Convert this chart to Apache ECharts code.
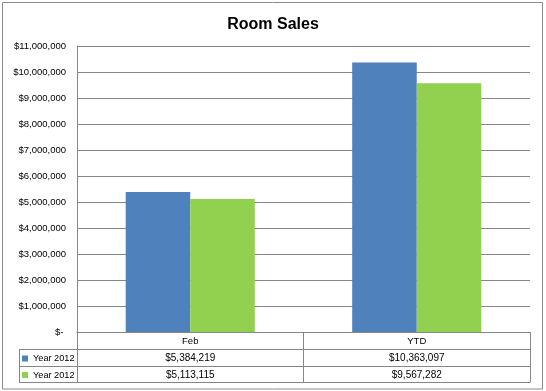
<!DOCTYPE html>
<html>
<head>
<meta charset="utf-8">
<script src="https://cdn.jsdelivr.net/npm/echarts@6/dist/echarts.min.js"></script>
<style>
html,body{margin:0;padding:0;background:#fff;}
#chart{width:546px;height:391px;}
</style>
</head>
<body>
<div id="chart"></div>
<script>
var categories = ['Feb', 'YTD'];
var seriesNames = ['Year 2012', 'Year 2012 '];
var sales1 = [5384219, 10363097];
var sales2 = [5113115, 9567282];
var yTicks = { min: 0, max: 11000000, interval: 1000000 };

function money(v) {
  if (v === 0) return '$- ';
  return '$' + Number(v).toLocaleString('en-US');
}

var FONT = 'Liberation Sans';
var GRID_COLOR = '#868686';
var chart = echarts.init(document.getElementById('chart'), null, { renderer: 'canvas' });

var option = {
  backgroundColor: '#ffffff',
  animation: false,
  title: {
    text: 'Room Sales',
    left: 'center',
    top: 12,
    textStyle: { fontFamily: FONT, fontWeight: 'bold', fontSize: 16, color: '#000' }
  },
  legend: {
    orient: 'vertical',
    left: 22,
    top: 352.5,
    padding: 0,
    itemGap: 4.5,
    itemWidth: 6,
    itemHeight: 6,
    icon: 'rect',
    selectedMode: false,
    data: seriesNames,
    textStyle: { fontFamily: FONT, fontSize: 9.2, color: '#000', lineHeight: 12 }
  },
  grid: { left: 77, right: 16, top: 46, bottom: 59, containLabel: false },
  yAxis: {
    type: 'value',
    min: yTicks.min,
    max: yTicks.max,
    interval: yTicks.interval,
    axisLine: { show: true, lineStyle: { color: GRID_COLOR, width: 1 } },
    axisTick: { show: false },
    splitLine: { show: true, lineStyle: { color: GRID_COLOR, width: 1 } },
    axisLabel: { margin: 11, fontFamily: FONT, fontSize: 9.5, color: '#000', formatter: money }
  },
  xAxis: [
    {
      type: 'category',
      data: categories,
      position: 'bottom',
      axisLine: { show: true, lineStyle: { color: GRID_COLOR, width: 1 } },
      axisTick: { show: true, interval: 0, length: 50, lineStyle: { color: GRID_COLOR, width: 1 } },
      axisLabel: { margin: 4, interval: 0, fontFamily: FONT, fontSize: 9.5, color: '#000' }
    },
    {
      type: 'category',
      data: categories,
      position: 'bottom',
      offset: 17,
      axisLine: { show: true, lineStyle: { color: GRID_COLOR, width: 1 } },
      axisTick: { show: false },
      axisLabel: { margin: 4, interval: 0, fontFamily: FONT, fontSize: 10, color: '#000',
        formatter: function (v, i) { return money(sales1[i]); } }
    },
    {
      type: 'category',
      data: categories,
      position: 'bottom',
      offset: 34,
      axisLine: { show: true, lineStyle: { color: GRID_COLOR, width: 1 } },
      axisTick: { show: false },
      axisLabel: { margin: 4, interval: 0, fontFamily: FONT, fontSize: 10, color: '#000',
        formatter: function (v, i) { return money(sales2[i]); } }
    },
    {
      type: 'category',
      data: categories,
      position: 'bottom',
      offset: 50,
      axisLine: { show: true, lineStyle: { color: GRID_COLOR, width: 1 } },
      axisTick: { show: false },
      axisLabel: { show: false }
    }
  ],
  series: [
    {
      name: seriesNames[0],
      type: 'bar',
      xAxisIndex: 0,
      data: sales1,
      barGap: '0%',
      barCategoryGap: '43%',
      itemStyle: { color: '#4F81BD' }
    },
    {
      name: seriesNames[1],
      type: 'bar',
      xAxisIndex: 0,
      data: sales2,
      barGap: '0%',
      barCategoryGap: '43%',
      itemStyle: { color: '#92D050' }
    }
  ],
  graphic: [
    { type: 'rect', shape: { x: 2.5, y: 2.5, width: 540, height: 386.5 }, style: { fill: null, stroke: '#8c8c8c', lineWidth: 1 }, silent: true },
    { type: 'line', shape: { x1: 19, y1: 349.5, x2: 77, y2: 349.5 }, style: { stroke: GRID_COLOR, lineWidth: 1 }, silent: true },
    { type: 'line', shape: { x1: 19, y1: 366.5, x2: 77, y2: 366.5 }, style: { stroke: GRID_COLOR, lineWidth: 1 }, silent: true },
    { type: 'line', shape: { x1: 19, y1: 382.5, x2: 77, y2: 382.5 }, style: { stroke: GRID_COLOR, lineWidth: 1 }, silent: true },
    { type: 'line', shape: { x1: 19.5, y1: 349, x2: 19.5, y2: 383 }, style: { stroke: GRID_COLOR, lineWidth: 1 }, silent: true }
  ]
};
chart.setOption(option);
</script>
</body>
</html>
